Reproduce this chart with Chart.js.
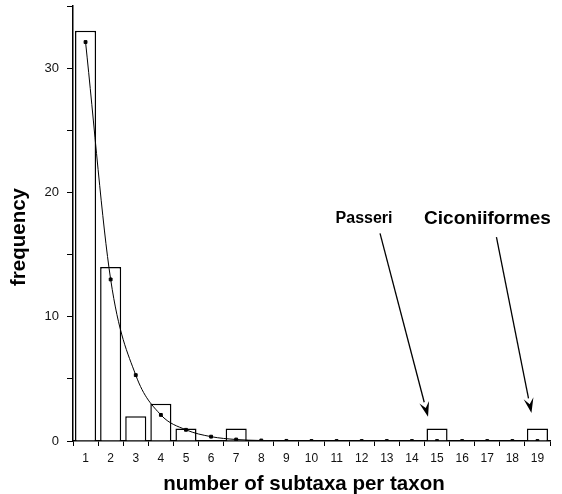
<!DOCTYPE html>
<html>
<head>
<meta charset="utf-8">
<script src="https://cdn.jsdelivr.net/npm/chart.js@4"></script>
<style>
    body { margin: 0; background: #fff; }
    #wrap { width: 562px; height: 494px; }
</style>
</head>
<body>
<div id="wrap"><canvas id="subtaxa"></canvas></div>
<script>
var categories = ['1', '2', '3', '4', '5', '6', '7', '8', '9', '10', '11', '12', '13', '14', '15', '16', '17', '18', '19'];
var observed = [33, 14, 2, 3, 1, 0, 1, 0, 0, 0, 0, 0, 0, 0, 1, 0, 0, 0, 1];
var expected = [32.1, 13.0, 5.3, 2.1, 0.9, 0.35, 0.12, 0.04, 0.01, 0, 0, 0, 0, 0, 0, 0, 0, 0, 0];
var yTicks = [0, 10, 20, 30];

// labels with arrows pointing at the outlier bars
var notes = [
    { text: 'Passeri', font: 'bold 16px "Liberation Sans", Arial', cat: '15', textDx: -73, textY: 17.9, fromDx: -57, fromY: 16.7, tipDx: -9, tipY: 1.95 },
    { text: 'Ciconiiformes', font: 'bold 19px "Liberation Sans", Arial', cat: '19', textDx: -50, textY: 17.9, fromDx: -41, fromY: 16.4, tipDx: -6, tipY: 2.25 }
];

var arrowNotes = {
    id: 'arrowNotes',
    afterDatasetsDraw: function(chart) {
        var ctx = chart.ctx;
        var x = chart.scales.x, y = chart.scales.y;
        ctx.save();
        ctx.fillStyle = '#000';
        ctx.strokeStyle = '#000';

        // axis titles
        ctx.font = 'bold 20.5px "Liberation Sans", Arial';
        ctx.textAlign = 'center';
        ctx.textBaseline = 'middle';
        ctx.fillText('number of subtaxa per taxon', 304, 484);
        ctx.save();
        ctx.translate(19, 237);
        ctx.rotate(-Math.PI / 2);
        ctx.font = 'bold 20.5px "Liberation Sans", Arial';
        ctx.fillText('frequency', 0, 0);
        ctx.restore();

        notes.forEach(function(n) {
            var cx = x.getPixelForValue(categories.indexOf(n.cat));
            ctx.font = n.font;
            ctx.textAlign = 'center';
            ctx.textBaseline = 'middle';
            ctx.fillText(n.text, cx + n.textDx, y.getPixelForValue(n.textY));

            var x0 = cx + n.fromDx, y0 = y.getPixelForValue(n.fromY);
            var x1 = cx + n.tipDx, y1 = y.getPixelForValue(n.tipY);
            var ang = Math.atan2(y1 - y0, x1 - x0);
            var len = 15, half = 5;
            var bx = x1 - len * Math.cos(ang), by = y1 - len * Math.sin(ang);
            ctx.lineWidth = 1.3;
            ctx.beginPath();
            ctx.moveTo(x0, y0);
            ctx.lineTo(bx, by);
            ctx.stroke();
            ctx.beginPath();
            ctx.moveTo(x1, y1);
            ctx.lineTo(bx + half * Math.sin(ang), by - half * Math.cos(ang));
            ctx.lineTo(x1 - 0.6 * len * Math.cos(ang), y1 - 0.6 * len * Math.sin(ang));
            ctx.lineTo(bx - half * Math.sin(ang), by + half * Math.cos(ang));
            ctx.closePath();
            ctx.fill();
        });
        ctx.restore();
    }
};

Chart.defaults.font.family = '"Liberation Sans", Arial, sans-serif';
Chart.defaults.color = '#111';

var subtaxaChart = new Chart(document.getElementById('subtaxa'), {
    type: 'bar',
    data: {
        labels: categories,
        datasets: [
            {
                type: 'line',
                label: 'expected',
                data: expected,
                borderColor: '#000',
                backgroundColor: '#000',
                borderWidth: 1,
                pointStyle: 'rect',
                pointRadius: 2,
                cubicInterpolationMode: 'monotone',
                order: 0
            },
            {
                label: 'observed',
                data: observed,
                backgroundColor: '#fff',
                borderColor: '#000',
                borderWidth: 1.5,
                barPercentage: 0.84,
                categoryPercentage: 1,
                order: 1
            }
        ]
    },
    options: {
        responsive: true,
        maintainAspectRatio: false,
        animation: false,
        layout: { padding: { top: 6, right: 12, left: 0, bottom: 0 } },
        plugins: {
            legend: { display: false },
            tooltip: { enabled: false }
        },
        scales: {
            x: {
                offset: true,
                grid: { offset: true, drawOnChartArea: false, color: '#000', tickLength: 5 },
                border: { color: '#000', width: 1.5 },
                ticks: { padding: 5, font: { size: 12 }, maxRotation: 0 },
                afterFit: function(scale) { scale.height = 53; }
            },
            y: {
                min: 0,
                max: 35,
                grid: { drawOnChartArea: false, color: '#000', tickLength: 6 },
                border: { color: '#000', width: 1.5 },
                ticks: {
                    stepSize: 5,
                    padding: 8,
                    font: { size: 13 },
                    callback: function(v) { return yTicks.indexOf(v) >= 0 ? v : ''; }
                },
                afterFit: function(scale) {
                    scale.width = 73;
                    scale.paddingTop = 0;
                    scale.paddingBottom = 0;
                }
            }
        }
    },
    plugins: [arrowNotes]
});
</script>
</body>
</html>
